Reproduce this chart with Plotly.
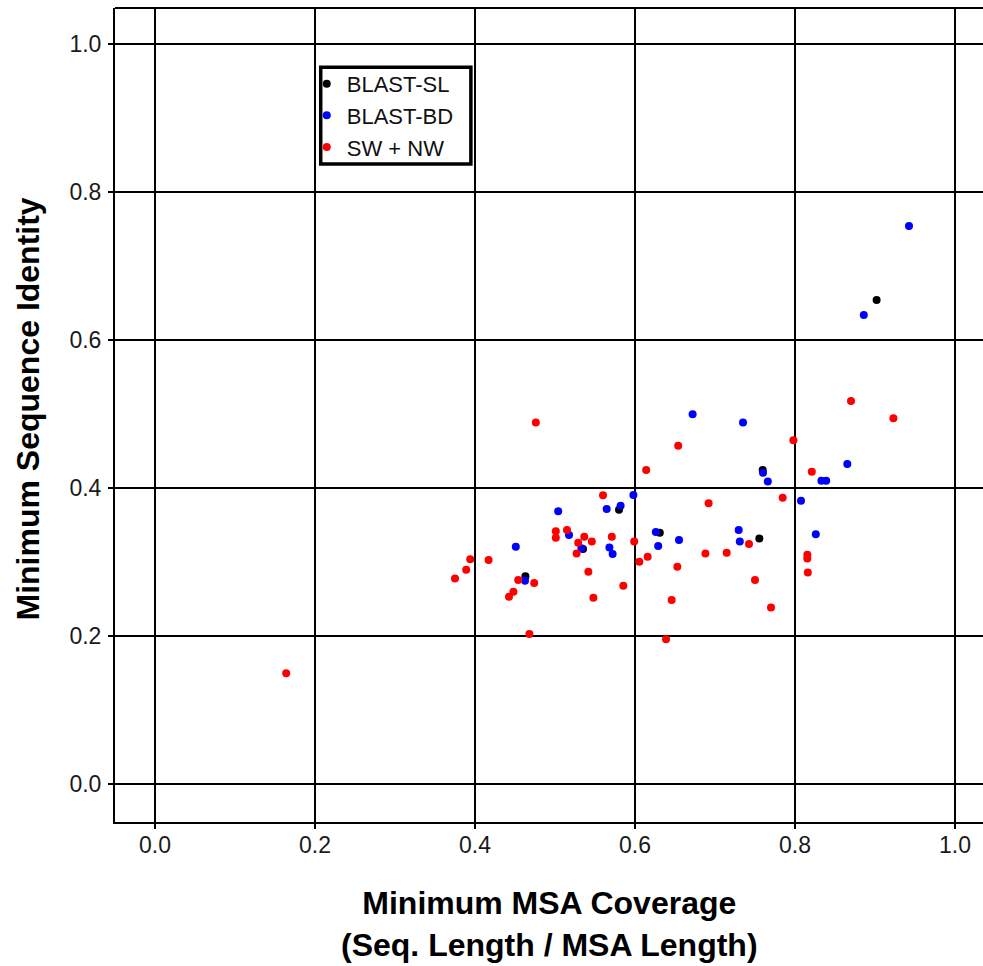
import plotly.graph_objects as go

# Minimum MSA coverage (x) vs minimum sequence identity (y) per method
sl_cov = [0.463, 0.580, 0.535, 0.631, 0.7596, 0.7554, 0.902]
sl_id = [0.281, 0.371, 0.318, 0.340, 0.4247, 0.332, 0.6545]

bd_cov = [0.504, 0.451, 0.4625, 0.672, 0.735, 0.598, 0.5646, 0.582, 0.5175,
          0.533, 0.568, 0.572, 0.626, 0.629, 0.655, 0.7296, 0.731, 0.8654,
          0.760, 0.833, 0.839, 0.766, 0.8075, 0.826, 0.9425, 0.886]
bd_id = [0.369, 0.321, 0.275, 0.500, 0.489, 0.391, 0.372, 0.3765, 0.337,
         0.319, 0.320, 0.311, 0.341, 0.322, 0.330, 0.3437, 0.328, 0.4328,
         0.421, 0.410, 0.410, 0.409, 0.3832, 0.3378, 0.7545, 0.634]

swnw_cov = [0.164, 0.476, 0.501, 0.501, 0.394, 0.417, 0.389, 0.375, 0.454,
            0.474, 0.448, 0.4425, 0.468, 0.654, 0.614, 0.560, 0.692, 0.515,
            0.5366, 0.546, 0.529, 0.527, 0.571, 0.599, 0.7425, 0.688, 0.7146,
            0.6158, 0.6054, 0.6529, 0.5417, 0.5854, 0.548, 0.6458, 0.6388,
            0.870, 0.923, 0.798, 0.821, 0.7846, 0.8154, 0.8154, 0.816, 0.750,
            0.770]
swnw_id = [0.150, 0.489, 0.342, 0.333, 0.304, 0.303, 0.290, 0.278, 0.276,
           0.272, 0.260, 0.2535, 0.203, 0.4576, 0.4247, 0.3905, 0.3797, 0.3437,
           0.3346, 0.328, 0.3265, 0.312, 0.3346, 0.328, 0.3247, 0.312, 0.313,
           0.3076, 0.3008, 0.294, 0.2873, 0.2684, 0.2522, 0.249, 0.196,
           0.518, 0.4946, 0.465, 0.4224, 0.3873, 0.310, 0.305, 0.286, 0.276,
           0.2387]

series = [
    ("BLAST-SL", sl_cov, sl_id, "#000000"),
    ("BLAST-BD", bd_cov, bd_id, "#0000ff"),
    ("SW + NW", swnw_cov, swnw_id, "#ff0000"),
]

ticks = [0.0, 0.2, 0.4, 0.6, 0.8, 1.0]
tick_text = ["0.0", "0.2", "0.4", "0.6", "0.8", "1.0"]

FONT = "Liberation Sans, Arial, sans-serif"

fig = go.Figure()
for name, xs, ys, color in series:
    fig.add_trace(go.Scatter(
        x=xs, y=ys, mode="markers", name=name,
        marker=dict(color=color, size=8, line=dict(width=0)),
    ))

axis_common = dict(
    tickvals=ticks, ticktext=tick_text,
    showgrid=True, gridcolor="#000000", gridwidth=2,
    zeroline=False,
    showline=True, linecolor="#000000", linewidth=2, mirror=False,
    ticks="outside", ticklen=5, tickwidth=2, tickcolor="#000000",
    tickfont=dict(family=FONT, size=23, color="#1a1a1a"),
)

fig.update_xaxes(range=[-0.05, 1.035], ticklabelstandoff=-4, **axis_common)
fig.update_yaxes(range=[-0.051, 1.049], ticklabelstandoff=2, **axis_common)

fig.update_layout(
    width=983, height=966,
    margin=dict(l=115, r=0, t=8, b=144),
    plot_bgcolor="#ffffff", paper_bgcolor="#ffffff",
    showlegend=True,
    legend=dict(
        x=0.2209, y=0.9325, xanchor="left", yanchor="top",
        bgcolor="rgba(0,0,0,0)", borderwidth=0,
        font=dict(family=FONT, size=22, color="#111111"),
        tracegroupgap=0,
    ),
    shapes=[
        # top edge of the plotting frame (open on the right side)
        dict(type="line", xref="paper", yref="paper",
             x0=0, x1=1, y0=1, y1=1,
             line=dict(color="#000000", width=2)),
        # legend box
        dict(type="rect", xref="paper", yref="paper",
             x0=0.237, x1=0.410, y0=0.8084, y1=0.9272,
             line=dict(color="#000000", width=3.5), fillcolor="rgba(0,0,0,0)"),
    ],
    annotations=[
        dict(text="<b>Minimum MSA Coverage</b><br><b>(Seq. Length / MSA Length)</b>",
             xref="paper", yref="paper", x=0.5, y=-0.075, xanchor="center", yanchor="top",
             showarrow=False, font=dict(family=FONT, size=32, color="#000000")),
        dict(text="<b>Minimum Sequence Identity</b>",
             xref="paper", yref="paper", x=-0.1, y=0.507, xanchor="center", yanchor="middle",
             textangle=-90, showarrow=False,
             font=dict(family=FONT, size=32, color="#000000")),
    ],
)

fig.write_html("out.html")
